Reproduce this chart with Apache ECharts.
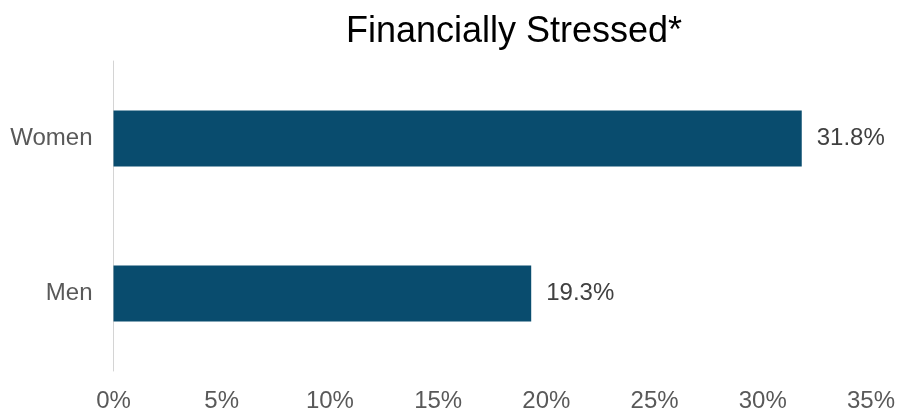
<!DOCTYPE html>
<html>
<head>
<meta charset="utf-8">
<script src="https://cdn.jsdelivr.net/npm/echarts@6/dist/echarts.min.js"></script>
<style>
  html, body { margin: 0; padding: 0; background: #ffffff; }
  #chart { width: 905px; height: 415px; }
</style>
</head>
<body>
<div id="chart"></div>
<script>
// Share of respondents who are financially stressed, by gender (%)
const categories = ['Women', 'Men'];
const values = [31.8, 19.3];
const tickStep = 5;
const axisMax = 35;

const FONT = "'Liberation Sans', Arial, sans-serif";

const chart = echarts.init(document.getElementById('chart'), null, { renderer: 'canvas' });

chart.setOption({
  backgroundColor: '#ffffff',
  animation: false,
  title: {
    text: 'Financially Stressed*',
    left: 509,
    top: 9,
    textAlign: 'center',
    textStyle: {
      fontFamily: FONT,
      fontSize: 36,
      fontWeight: 'normal',
      color: '#000000'
    }
  },
  grid: {
    left: 113.5,
    right: 34,
    top: 61,
    bottom: 44,
    containLabel: false
  },
  xAxis: {
    type: 'value',
    min: 0,
    max: axisMax,
    interval: tickStep,
    axisLine: { show: false },
    axisTick: { show: false },
    splitLine: { show: false },
    axisLabel: {
      formatter: '{value}%',
      fontFamily: FONT,
      fontSize: 24,
      color: '#595959',
      margin: 18
    }
  },
  yAxis: {
    type: 'category',
    data: categories,
    inverse: true,
    axisLine: { show: true, lineStyle: { color: '#d4d4d4', width: 1 } },
    axisTick: { show: false },
    splitLine: { show: false },
    axisLabel: {
      fontFamily: FONT,
      fontSize: 24,
      color: '#595959',
      margin: 21
    }
  },
  series: [{
    type: 'bar',
    data: values,
    barWidth: '36%',
    itemStyle: { color: '#094c6e' },
    label: {
      show: true,
      position: 'right',
      distance: 15,
      formatter: p => p.value.toFixed(1) + '%',
      fontFamily: FONT,
      fontSize: 24,
      color: '#404040'
    }
  }]
});
</script>
</body>
</html>
